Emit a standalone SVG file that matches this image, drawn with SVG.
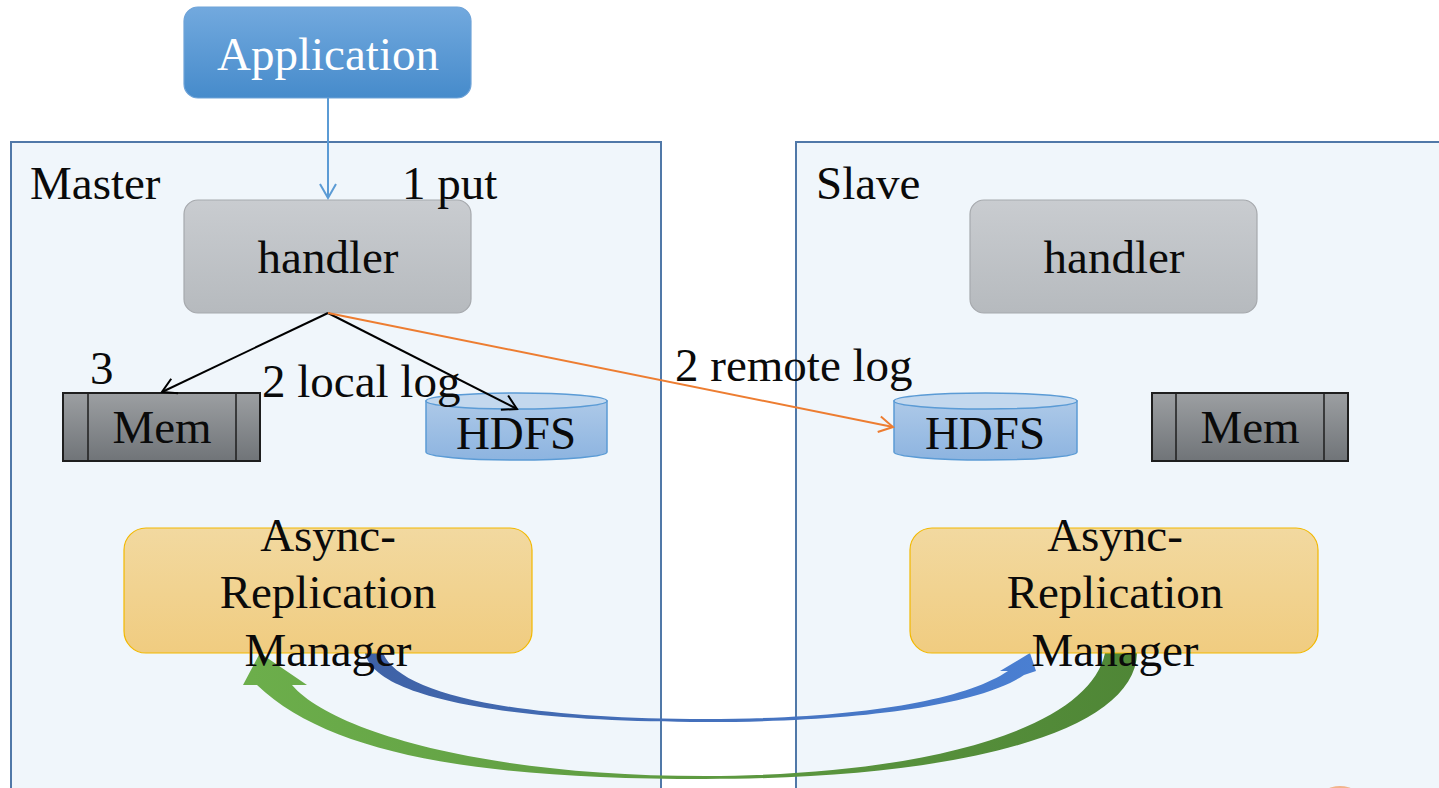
<svg xmlns="http://www.w3.org/2000/svg" width="1439" height="788" viewBox="0 0 1439 788">
<style>
text{font-family:"Liberation Serif","Times New Roman",serif;font-size:47px;fill:#0a0a0a}
.c{text-anchor:middle}
.box{fill:#f0f6fb;stroke:#5078a8;stroke-width:2}
.hand{fill:url(#gHand);stroke:#a6a9ad;stroke-width:1.2}
.mem{fill:url(#gMem);stroke:#1e1e1e;stroke-width:2}
.memln{stroke:#1e1e1e;stroke-width:1.5}
.cyl{fill:url(#gCyl);stroke:#5b9bd5;stroke-width:1.5}
.cyltop{fill:#c3d8ee;stroke:#5b9bd5;stroke-width:1.5}
.async{fill:url(#gAsync);stroke:#f2b800;stroke-width:1.2}
.blk{fill:none;stroke:#000;stroke-width:2;marker-end:url(#mBlk)}
</style>
<defs>
<linearGradient id="gApp" x1="0" y1="0" x2="0" y2="1"><stop offset="0" stop-color="#72a9de"/><stop offset="1" stop-color="#468bcb"/></linearGradient>
<linearGradient id="gHand" x1="0" y1="0" x2="0" y2="1"><stop offset="0" stop-color="#c9ccd0"/><stop offset="1" stop-color="#b6babe"/></linearGradient>
<linearGradient id="gMem" x1="0" y1="0" x2="0" y2="1"><stop offset="0" stop-color="#9c9fa2"/><stop offset="1" stop-color="#707478"/></linearGradient>
<linearGradient id="gCyl" x1="0" y1="0" x2="0" y2="1"><stop offset="0" stop-color="#adc9e8"/><stop offset="1" stop-color="#8db4e0"/></linearGradient>
<linearGradient id="gAsync" x1="0" y1="0" x2="0" y2="1"><stop offset="0" stop-color="#f2d9a0"/><stop offset="1" stop-color="#f0cc80"/></linearGradient>
<linearGradient id="gGreen" gradientUnits="userSpaceOnUse" x1="250" y1="0" x2="1140" y2="0"><stop offset="0" stop-color="#6cae4b"/><stop offset="1" stop-color="#4f8636"/></linearGradient>
<linearGradient id="gBlue" gradientUnits="userSpaceOnUse" x1="365" y1="0" x2="1036" y2="0"><stop offset="0" stop-color="#3f62a6"/><stop offset="1" stop-color="#4a7fd2"/></linearGradient>
<marker id="mBlk" markerUnits="userSpaceOnUse" markerWidth="20" markerHeight="20" viewBox="0 0 20 20" refX="18" refY="10" orient="auto"><path d="M4,2 L18,10 L4,18" fill="none" stroke="#000" stroke-width="2"/></marker>
<marker id="mOr" markerUnits="userSpaceOnUse" markerWidth="20" markerHeight="20" viewBox="0 0 20 20" refX="18" refY="10" orient="auto"><path d="M4,2 L18,10 L4,18" fill="none" stroke="#ed7d31" stroke-width="2"/></marker>
<marker id="mBl" markerUnits="userSpaceOnUse" markerWidth="20" markerHeight="20" viewBox="0 0 20 20" refX="18" refY="10" orient="auto"><path d="M4,2 L18,10 L4,18" fill="none" stroke="#5b9bd5" stroke-width="2"/></marker>
</defs>
<rect width="1439" height="788" fill="#ffffff"/>
<g id="master">
<rect class="box" x="11" y="142" width="650" height="660"/>
<text x="30" y="199">Master</text>
</g>
<g id="slave">
<rect class="box" x="796" y="142" width="660" height="660"/>
<text x="816" y="199">Slave</text>
</g>
<ellipse cx="1340" cy="802" rx="22" ry="16" fill="#f2a878" opacity="0.85"/>
<g id="application">
<rect x="184" y="7" width="287" height="91" rx="14" fill="url(#gApp)" stroke="#6ea3d8" stroke-width="1.2"/>
<text class="c" x="328" y="70" style="fill:#ffffff">Application</text>
</g>
<g id="master-handler">
<rect class="hand" x="184" y="200" width="287" height="113" rx="14"/>
<text class="c" x="328" y="273">handler</text>
</g>
<g id="slave-handler">
<rect class="hand" x="970" y="200" width="287" height="113" rx="14"/>
<text class="c" x="1114" y="273">handler</text>
</g>
<g id="master-mem">
<rect class="mem" x="63" y="393" width="197" height="68"/>
<line class="memln" x1="88" y1="393" x2="88" y2="461"/>
<line class="memln" x1="236" y1="393" x2="236" y2="461"/>
<text class="c" x="162" y="443">Mem</text>
</g>
<g id="slave-mem">
<rect class="mem" x="1152" y="393" width="196" height="68"/>
<line class="memln" x1="1176" y1="393" x2="1176" y2="461"/>
<line class="memln" x1="1324" y1="393" x2="1324" y2="461"/>
<text class="c" x="1250" y="443">Mem</text>
</g>
<g id="master-hdfs">
<path class="cyl" d="M426,401 L426,452 A90.5,8 0 0 0 607,452 L607,401 Z"/>
<ellipse class="cyltop" cx="516.5" cy="401" rx="90.5" ry="8"/>
<text class="c" x="516" y="449">HDFS</text>
</g>
<g id="slave-hdfs">
<path class="cyl" d="M894,401 L894,452 A91.5,8 0 0 0 1077,452 L1077,401 Z"/>
<ellipse class="cyltop" cx="985.5" cy="401" rx="91.5" ry="8"/>
<text class="c" x="985" y="449">HDFS</text>
</g>
<g id="connectors">
<line x1="328" y1="98" x2="328" y2="198" stroke="#5b9bd5" stroke-width="2" marker-end="url(#mBl)"/>
<text x="402" y="199">1 put</text>
<line class="blk" x1="328" y1="313" x2="162" y2="392"/>
<line class="blk" x1="328" y1="313" x2="517" y2="409"/>
<line x1="328" y1="313" x2="893" y2="427" stroke="#ed7d31" stroke-width="2" marker-end="url(#mOr)"/>
<text x="90" y="384">3</text>
<text x="262" y="397">2 local log</text>
<text x="675" y="381">2 remote log</text>
<path d="M365,653 C375,700 520,722 705,722 C860,722 980,705 1024,675 L1036,671 L1030,653 L1000,671 L1008,671 C965,700 860,719 705,719 C520,719 400,695 383,653 Z" fill="url(#gBlue)"/>
<path d="M1137,653 C1135,735 950,779 705,779 C480,779 330,755 257,685 L243,685 L260,653 L307,685 L292,685 C330,730 480,776 705,776 C940,775 1090,725 1105,653 Z" fill="url(#gGreen)"/>
</g>
<g id="master-async">
<rect class="async" x="124" y="528" width="408" height="125" rx="22"/>
<text class="c" x="328" y="551">Async-</text>
<text class="c" x="328" y="608">Replication</text>
<text class="c" x="328" y="666">Manager</text>
</g>
<g id="slave-async">
<rect class="async" x="910" y="528" width="408" height="125" rx="22"/>
<text class="c" x="1115" y="551">Async-</text>
<text class="c" x="1115" y="608">Replication</text>
<text class="c" x="1115" y="666">Manager</text>
</g>
</svg>
